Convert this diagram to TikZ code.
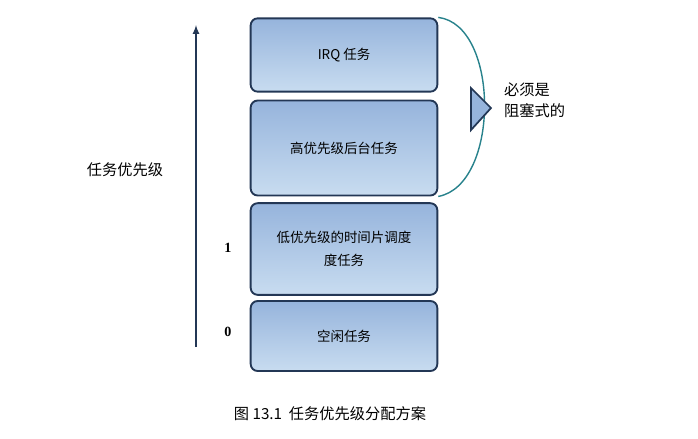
\documentclass[tikz,border=0pt]{standalone}
\usepackage{fontspec}
\setmainfont{Liberation Serif}
\newfontfamily\cjk{Noto Sans CJK SC}
\usetikzlibrary{calc}
\usetikzlibrary{positioning}
\definecolor{boxedge}{RGB}{35,55,85}
\definecolor{boxtop}{RGB}{150,180,220}
\definecolor{boxbot}{RGB}{200,220,240}
\definecolor{bracecol}{RGB}{40,130,140}
\tikzset{
  task/.style={draw=boxedge,line width=1.6pt,rounded corners=6pt,
    top color=boxtop,bottom color=boxbot,minimum width=5.6cm,
    align=center,font=\cjk\fontsize{11.5}{14}\selectfont},
}
\begin{document}
\begin{tikzpicture}[x=0.03cm,y=-0.03cm]
            \useasboundingbox (0,0) rectangle (698,438);

            \node[task,minimum height=2.2cm] (irq) at (344,55) {IRQ 任务};
            \node[task,minimum height=2.85cm] (high) at (344,148) {高优先级后台任务};
            \node[task,minimum height=2.75cm] (low) at (344,249) {低优先级的时间片调度\\[6pt]度任务};
            \node[task,minimum height=2.1cm] (idle) at (344,336) {空闲任务};

            \coordinate (bot) at (196,347);
            \coordinate (top) at (196,25);
            \draw[boxedge,line width=1.6pt,-latex] (bot) -- (top);

            \node[font=\cjk\fontsize{13}{16}\selectfont] (prio) at (125,170) {任务优先级};
            \node[font=\bfseries\fontsize{12}{14}\selectfont] (one) at (228,248) {1};
            \node[font=\bfseries\fontsize{12}{14}\selectfont] (zero) at (228,332) {0};

            \draw[bracecol,line width=1.2pt] (irq.north east) .. controls (500,25) and (500,185) .. (high.south east);
            \draw[boxedge,line width=1.5pt,fill=boxtop] (471,88) -- (491,108) -- (471,130) -- cycle;
            \node[font=\cjk\fontsize{13}{18}\selectfont,align=left,anchor=west] (must) at (500,100) {必须是\\阻塞式的};

            \node[font=\cjk\fontsize{13}{16}\selectfont] (cap) at (330,414) {图 13.1\ \ 任务优先级分配方案};
        \end{tikzpicture}
\end{document}
